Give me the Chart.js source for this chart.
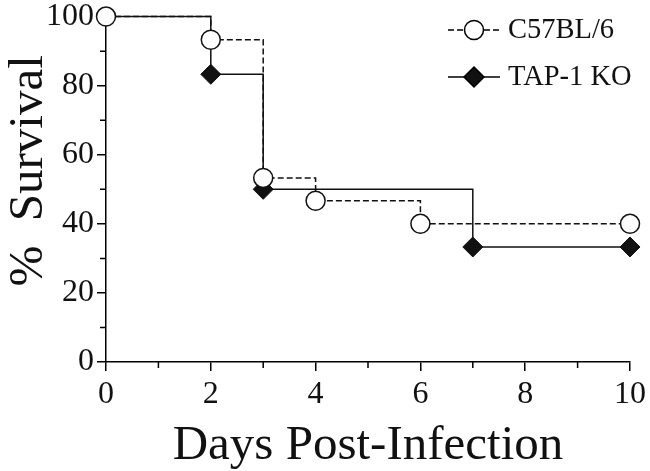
<!DOCTYPE html>
<html>
<head>
<meta charset="utf-8">
<script src="https://cdn.jsdelivr.net/npm/chart.js@4/dist/chart.umd.min.js"></script>
<style>
  html, body { margin: 0; padding: 0; background: #fff; }
  #wrap { width: 650px; height: 471px; }
</style>
</head>
<body>
<div id="wrap"><canvas id="chartSurvival" width="650" height="471"></canvas></div>
<script>
// Datos (Kaplan-Meier, % supervivencia)
const diasC57 = [0, 2, 3, 4, 6, 10];
const supervC57 = [100, 93.3, 53.3, 46.7, 40, 40];
const diasTap = [0, 2, 3, 7, 10];
const supervTap = [100, 83.3, 50, 33.3, 33.3];
const nombresSeries = ['C57BL/6', 'TAP-1 KO'];
const ticksX = [0, 2, 4, 6, 8, 10];
const ticksY = [0, 20, 40, 60, 80, 100];

const SERIF = "'Liberation Serif', 'DejaVu Serif', serif";

const toXY = (xs, ys) => xs.map((x, i) => ({ x: x, y: ys[i] }));

// Ticks menores (más cortos) y leyenda con línea + marcador
const extrasPlugin = {
    id: 'extras',
    afterDraw(chart) {
        const ctx = chart.ctx;
        const sx = chart.scales.x, sy = chart.scales.y;
        ctx.save();
        ctx.strokeStyle = '#000';
        ctx.lineWidth = 1.5;
        ctx.beginPath();
        for (let v = 1; v < 10; v += 2) {
            const px = sx.getPixelForValue(v);
            ctx.moveTo(px, sy.bottom);
            ctx.lineTo(px, sy.bottom + 6);
        }
        for (let v = 10; v < 100; v += 20) {
            const py = sy.getPixelForValue(v);
            ctx.moveTo(sx.left, py);
            ctx.lineTo(sx.left - 6, py);
        }
        ctx.stroke();

        // Leyenda
        const filas = [
            { y: 30, dash: [6, 3], shape: 'circle' },
            { y: 77, dash: [], shape: 'diamond' }
        ];
        filas.forEach((f, i) => {
            ctx.setLineDash(f.dash);
            ctx.beginPath();
            ctx.moveTo(448, f.y);
            ctx.lineTo(500, f.y);
            ctx.stroke();
            ctx.setLineDash([]);
            ctx.beginPath();
            if (f.shape === 'circle') {
                ctx.arc(474, f.y, 9.5, 0, Math.PI * 2);
                ctx.fillStyle = '#fff';
                ctx.fill();
                ctx.stroke();
            } else {
                ctx.moveTo(474, f.y - 10);
                ctx.lineTo(484, f.y);
                ctx.lineTo(474, f.y + 10);
                ctx.lineTo(464, f.y);
                ctx.closePath();
                ctx.fillStyle = '#111';
                ctx.fill();
                ctx.stroke();
            }
            ctx.fillStyle = '#111';
            ctx.font = '28.5px ' + SERIF;
            ctx.textBaseline = 'middle';
            ctx.textAlign = 'left';
            ctx.fillText(nombresSeries[i], 508, f.y + 1);
        });
        ctx.restore();
    }
};

const ctxSurv = document.getElementById('chartSurvival').getContext('2d');
new Chart(ctxSurv, {
    type: 'line',
    data: {
        datasets: [
            {
                label: nombresSeries[0],
                data: toXY(diasC57, supervC57),
                stepped: true,
                borderColor: '#111',
                borderWidth: 1.5,
                borderDash: [6, 3],
                pointStyle: 'circle',
                pointRadius: 9.5,
                pointBackgroundColor: '#fff',
                pointBorderColor: '#111',
                pointBorderWidth: 1.5,
                clip: false,
                fill: false
            },
            {
                label: nombresSeries[1],
                data: toXY(diasTap, supervTap),
                stepped: true,
                borderColor: '#111',
                borderWidth: 1.5,
                pointStyle: 'rectRot',
                pointRadius: diasTap.map((d, i) => i === 0 ? 0 : 10),
                pointBackgroundColor: '#111',
                pointBorderColor: '#111',
                pointBorderWidth: 1,
                clip: false,
                fill: false
            }
        ]
    },
    options: {
        responsive: false,
        animation: false,
        layout: { padding: { top: 15, right: 18, left: 0, bottom: 0 } },
        plugins: {
            legend: { display: false },
            tooltip: { enabled: false }
        },
        scales: {
            x: {
                type: 'linear',
                min: 0,
                max: 10,
                afterFit: s => { s.height = 109; },
                afterBuildTicks: s => { s.ticks = ticksX.map(v => ({ value: v })); },
                border: { color: '#000', width: 1.5 },
                grid: { drawOnChartArea: false, tickLength: 9, color: '#000', lineWidth: 1.5 },
                ticks: { color: '#111', padding: 4, font: { family: SERIF, size: 32 } },
                title: {
                    display: true,
                    text: 'Days Post-Infection',
                    color: '#111',
                    padding: { top: 0, bottom: -5 },
                    font: { family: SERIF, size: 49 }
                }
            },
            y: {
                min: 0,
                max: 100,
                afterFit: s => { s.width = 106; },
                afterBuildTicks: s => { s.ticks = ticksY.map(v => ({ value: v })); },
                border: { color: '#000', width: 1.5 },
                grid: { drawOnChartArea: false, tickLength: 9, color: '#000', lineWidth: 1.5 },
                ticks: { color: '#111', padding: 3, font: { family: SERIF, size: 32, lineHeight: 0.85 } },
                title: {
                    display: true,
                    text: '   %  Survival',
                    color: '#111',
                    padding: 0,
                    font: { family: SERIF, size: 49 }
                }
            }
        }
    },
    plugins: [extrasPlugin]
});
</script>
</body>
</html>
